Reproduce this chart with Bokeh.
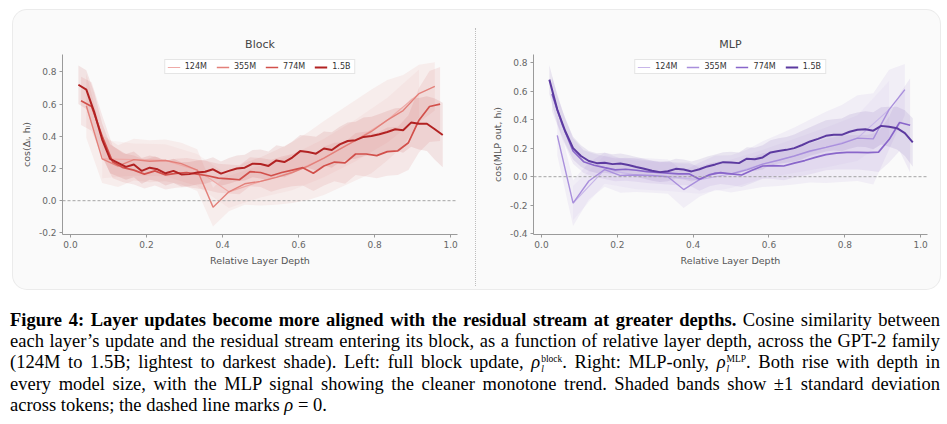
from bokeh.plotting import figure
from bokeh.models import Span, FixedTicker, PrintfTickFormatter, Div, Range1d
from bokeh.layouts import row, column
from bokeh.embed import file_html
from bokeh.resources import INLINE

# ---------------- data ----------------
sizes = ["124M", "355M", "774M", "1.5B"]
n_layers = [12, 24, 36, 48]

# Block panel: cosine between full block update and residual stream
block_124m = [0.26, 0.255, 0.25, 0.19, 0.055, 0.12, 0.175, 0.265, 0.375, 0.50, 0.665]
block_124m_sd = [0.12, 0.10, 0.10, 0.10, 0.10, 0.10, 0.11, 0.12, 0.13, 0.14, 0.15]

block_355m = [0.59, 0.26, 0.215, 0.255, 0.245, 0.25, 0.23, 0.19, -0.04, 0.055, 0.105, 0.12,
              0.145, 0.175, 0.215, 0.265, 0.32, 0.375, 0.43, 0.50, 0.56, 0.665, 0.71]
block_355m_sd = [0.20, 0.15, 0.13, 0.13, 0.13, 0.13, 0.13, 0.13, 0.12, 0.12, 0.13, 0.15,
                 0.17, 0.19, 0.21, 0.23, 0.24, 0.25, 0.26, 0.25, 0.22, 0.18, 0.15]

block_774m = [0.62, 0.585, 0.40, 0.24, 0.205, 0.19, 0.165, 0.185, 0.16, 0.17, 0.175, 0.165,
              0.155, 0.14, 0.135, 0.13, 0.18, 0.175, 0.155, 0.175, 0.19, 0.205, 0.17, 0.215,
              0.24, 0.235, 0.29, 0.29, 0.28, 0.305, 0.31, 0.36, 0.50, 0.585, 0.60]
block_774m_sd = [0.15, 0.15, 0.13, 0.10, 0.09, 0.09, 0.09, 0.09, 0.09, 0.09, 0.09, 0.09,
                 0.09, 0.09, 0.09, 0.09, 0.09, 0.09, 0.10, 0.10, 0.10, 0.11, 0.11, 0.12,
                 0.12, 0.13, 0.13, 0.14, 0.14, 0.15, 0.15, 0.17, 0.20, 0.22, 0.23]

block_1_5b = [0.72, 0.69, 0.55, 0.38, 0.26, 0.235, 0.21, 0.225, 0.185, 0.205, 0.195, 0.17,
              0.185, 0.163, 0.165, 0.175, 0.18, 0.195, 0.168, 0.185, 0.20, 0.205, 0.23, 0.228,
              0.216, 0.25, 0.24, 0.268, 0.308, 0.303, 0.292, 0.324, 0.315, 0.35, 0.371, 0.376,
              0.396, 0.402, 0.413, 0.427, 0.444, 0.438, 0.485, 0.478, 0.478, 0.444, 0.408]
block_1_5b_sd = [0.12, 0.12, 0.12, 0.10, 0.09, 0.085, 0.08, 0.08, 0.08, 0.075, 0.075, 0.075,
                 0.075, 0.075, 0.075, 0.075, 0.075, 0.075, 0.075, 0.08, 0.08, 0.08, 0.085, 0.09,
                 0.09, 0.095, 0.095, 0.10, 0.10, 0.10, 0.105, 0.105, 0.11, 0.11, 0.115, 0.115,
                 0.12, 0.12, 0.125, 0.13, 0.13, 0.14, 0.15, 0.16, 0.17, 0.19, 0.20]

# MLP panel: cosine between MLP output and residual stream
mlp_124m = [-0.185, 0.05, 0.012, 0.0, -0.02, 0.02, 0.088, 0.145, 0.205, 0.27, 0.47]
mlp_124m_sd = [0.12, 0.10, 0.10, 0.10, 0.10, 0.10, 0.10, 0.12, 0.14, 0.16, 0.20]

mlp_355m = [0.29, -0.185, -0.03, 0.05, 0.008, 0.012, 0.008, 0.0, -0.09, -0.02, 0.028, 0.02,
            0.048, 0.088, 0.115, 0.145, 0.18, 0.205, 0.232, 0.27, 0.265, 0.47, 0.61]
mlp_355m_sd = [0.14, 0.16, 0.13, 0.12, 0.12, 0.12, 0.12, 0.12, 0.13, 0.12, 0.12, 0.13,
               0.14, 0.16, 0.18, 0.20, 0.22, 0.25, 0.27, 0.30, 0.32, 0.28, 0.18]

mlp_774m = [0.58, 0.36, 0.18, 0.105, 0.08, 0.063, 0.048, 0.052, 0.045, 0.035, 0.03, 0.025,
            0.02, 0.02, -0.018, 0.015, 0.028, 0.02, 0.012, 0.045, 0.075, 0.078, 0.075, 0.095,
            0.113, 0.135, 0.155, 0.165, 0.17, 0.17, 0.168, 0.172, 0.26, 0.38, 0.36]
mlp_774m_sd = [0.12, 0.10, 0.09, 0.08, 0.08, 0.08, 0.08, 0.08, 0.08, 0.08, 0.08, 0.08,
               0.08, 0.08, 0.08, 0.08, 0.08, 0.08, 0.085, 0.09, 0.09, 0.095, 0.10, 0.10,
               0.105, 0.11, 0.11, 0.115, 0.12, 0.12, 0.125, 0.14, 0.16, 0.20, 0.33]

mlp_1_5b = [0.68, 0.47, 0.32, 0.20, 0.145, 0.11, 0.095, 0.098, 0.088, 0.092, 0.082, 0.068,
            0.055, 0.042, 0.032, 0.038, 0.055, 0.05, 0.037, 0.052, 0.072, 0.086, 0.102, 0.10,
            0.095, 0.126, 0.122, 0.135, 0.17, 0.18, 0.188, 0.20, 0.222, 0.247, 0.265, 0.286,
            0.293, 0.293, 0.315, 0.329, 0.333, 0.322, 0.356, 0.35, 0.34, 0.305, 0.24]
mlp_1_5b_sd = [0.10, 0.10, 0.09, 0.08, 0.075, 0.07, 0.07, 0.07, 0.07, 0.07, 0.07, 0.07,
               0.07, 0.07, 0.07, 0.07, 0.07, 0.07, 0.07, 0.07, 0.07, 0.07, 0.07, 0.075,
               0.075, 0.08, 0.08, 0.085, 0.085, 0.09, 0.09, 0.095, 0.10, 0.10, 0.105, 0.11,
               0.11, 0.115, 0.12, 0.12, 0.125, 0.13, 0.13, 0.14, 0.15, 0.16, 0.17]

x_ticks = [0.0, 0.2, 0.4, 0.6, 0.8, 1.0]
block_y_ticks = [-0.2, 0.0, 0.2, 0.4, 0.6, 0.8]
mlp_y_ticks = [-0.4, -0.2, 0.0, 0.2, 0.4, 0.6, 0.8]

red_colors = ["#efaaa7", "#e3807a", "#d2504b", "#b22222"]
purple_colors = ["#c8b6e9", "#a98fdc", "#8966ca", "#5c3aa0"]
line_widths = [1.2, 1.4, 1.7, 2.0]


def depths(L):
    # relative depth of layers 1..L-1
    return [l / L for l in range(1, L)]


def make_panel(title, ylabel, yrange, yticks, series, sds, colors, width, mbl, mbr):
    p = figure(width=width, height=279, output_backend="svg", toolbar_location=None,
               x_range=Range1d(-0.021, 1.018), y_range=Range1d(*yrange),
               title=title, min_border_left=mbl, min_border_right=mbr,
               min_border_top=44, min_border_bottom=55)
    p.background_fill_color = None
    p.border_fill_color = None
    p.outline_line_color = None
    p.grid.visible = False
    p.title.align = "center"
    p.title.text_font = "DejaVu Sans"
    p.title.text_font_size = "11px"
    p.title.text_font_style = "normal"
    p.title.text_color = "#444444"
    p.title.standoff = 7

    for ax in (p.xaxis[0], p.yaxis[0]):
        ax.axis_line_color = "#9a9a9a"
        ax.major_tick_line_color = "#9a9a9a"
        ax.minor_tick_line_color = None
        ax.major_tick_in = 0
        ax.major_tick_out = 3
        ax.major_label_text_font = "DejaVu Sans"
        ax.major_label_text_font_size = "9px"
        ax.major_label_text_color = "#666666"
        ax.axis_label_text_font = "DejaVu Sans"
        ax.axis_label_text_font_size = "9.5px"
        ax.axis_label_text_font_style = "normal"
        ax.axis_label_text_color = "#555555"
        ax.major_label_standoff = 3
        ax.axis_label_standoff = 4
        ax.formatter = PrintfTickFormatter(format="%.1f")
    p.xaxis[0].ticker = FixedTicker(ticks=x_ticks)
    p.yaxis[0].ticker = FixedTicker(ticks=yticks)
    p.xaxis[0].axis_label = "Relative Layer Depth"
    p.yaxis[0].axis_label = ylabel

    for vals, sd, L, c in zip(series, sds, n_layers, colors):
        xs = depths(L)
        lo = [v - s for v, s in zip(vals, sd)]
        hi = [v + s for v, s in zip(vals, sd)]
        p.varea(x=xs, y1=lo, y2=hi, fill_color=c, fill_alpha=0.105)

    p.add_layout(Span(location=0, dimension="width", line_color="#9a9a9a",
                      line_dash="3 2", line_width=0.9))

    for vals, L, c, w, name in zip(series, n_layers, colors, line_widths, sizes):
        p.line(depths(L), vals, line_color=c, line_width=w, legend_label=name)

    lg = p.legend[0]
    lg.location = "top_center"
    lg.orientation = "horizontal"
    lg.margin = 5
    lg.padding = 2
    lg.spacing = 9
    lg.glyph_width = 13
    lg.glyph_height = 8
    lg.label_height = 8
    lg.label_standoff = 5
    lg.label_text_font = "DejaVu Sans"
    lg.label_text_font_size = "8px"
    lg.label_text_color = "#333333"
    lg.border_line_color = "#cccccc"
    lg.border_line_width = 1
    lg.background_fill_color = "white"
    lg.background_fill_alpha = 0.85
    return p


p_block = make_panel("Block", "cos(\u0394\u2097, h\u2097)", (-0.21, 0.908), block_y_ticks,
                     [block_124m, block_355m, block_774m, block_1_5b],
                     [block_124m_sd, block_355m_sd, block_774m_sd, block_1_5b_sd],
                     red_colors, 462, 49, 18)
p_mlp = make_panel("MLP", "cos(MLP out, h\u2097)", (-0.405, 0.856), mlp_y_ticks,
                   [mlp_124m, mlp_355m, mlp_774m, mlp_1_5b],
                   [mlp_124m_sd, mlp_355m_sd, mlp_774m_sd, mlp_1_5b_sd],
                   purple_colors, 464, 57, 13)

sep = Div(text='<div style="width:0;height:258px;margin-top:18px;border-left:1px dotted #bdbdbd;"></div>',
          width=1, height=279, margin=0)

box = row(p_block, sep, p_mlp, margin=(10, 0, 0, 13),
          styles={"background-color": "#fafafa", "border-radius": "14px",
                  "box-shadow": "0 0 0 1px #ebebeb"})

line_style = "text-align:justify;text-align-last:justify;white-space:nowrap;"


def rho(sup):
    return ('<i>\u03c1</i><span style="display:inline-block;vertical-align:-4px;line-height:10px;'
            'font-size:9.5px;text-align:left;margin-left:1px">'
            f'<span style="display:block">{sup}</span>'
            '<span style="display:block"><i>l</i></span></span>')


caption_html = (
    '<div style="font-family:\'Liberation Serif\',\'DejaVu Serif\',serif;font-size:18.5px;'
    'line-height:21px;color:#000000;width:930px;">'
    f'<div style="{line_style}"><b>Figure 4: Layer updates become more aligned with the residual '
    'stream at greater depths.</b> Cosine similarity between</div>'
    f'<div style="{line_style}">each layer\u2019s update and the residual stream entering its block, '
    'as a function of relative layer depth, across the GPT-2 family</div>'
    f'<div style="{line_style}">(124M to 1.5B; lightest to darkest shade). Left: full block update, '
    f'{rho("block")}. Right: MLP-only, {rho("MLP")}. Both rise with depth in</div>'
    f'<div style="{line_style}">every model size, with the MLP signal showing the cleaner monotone '
    'trend. Shaded bands show \u00b11 standard deviation</div>'
    '<div style="white-space:nowrap;">across tokens; the dashed line marks <i>\u03c1</i> = 0.</div>'
    '</div>'
)
caption = Div(text=caption_html, width=930, height=105, margin=(21, 0, 0, 10))

layout = column(box, caption, margin=0)

open("out.html", "w").write(file_html(layout, INLINE))
